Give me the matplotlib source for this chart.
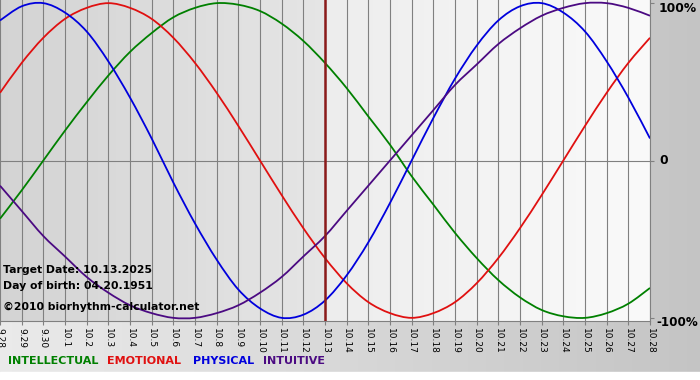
import numpy as np
import matplotlib.pyplot as plt
from matplotlib.path import Path
from matplotlib.patches import PathPatch

# day labels along the bottom (month.day)
tick_labels = ['9.28', '9.29', '9.30', '10.1', '10.2', '10.3', '10.4', '10.5', '10.6', '10.7',
               '10.8', '10.9', '10.10', '10.11', '10.12', '10.13', '10.14', '10.15', '10.16', '10.17',
               '10.18', '10.19', '10.20', '10.21', '10.22', '10.23', '10.24', '10.25', '10.26', '10.27',
               '10.28']

# cycle values per day (1 = 100%)
physical = [0.89, 0.98, 1.00, 0.94, 0.82, 0.63, 0.40, 0.14, -0.14, -0.40,
            -0.63, -0.82, -0.94, -1.00, -0.98, -0.89, -0.73, -0.52, -0.27, 0.00,
            0.27, 0.52, 0.73, 0.89, 0.98, 1.00, 0.94, 0.82, 0.63, 0.40, 0.14]
emotional = [0.43, 0.62, 0.78, 0.90, 0.97, 1.00, 0.97, 0.90, 0.78, 0.62,
             0.43, 0.22, 0.00, -0.22, -0.43, -0.62, -0.78, -0.90, -0.97, -1.00,
             -0.97, -0.90, -0.78, -0.62, -0.43, -0.22, 0.00, 0.22, 0.43, 0.62, 0.78]
intellectual = [-0.37, -0.19, 0.00, 0.19, 0.37, 0.54, 0.69, 0.81, 0.91, 0.97,
                1.00, 0.99, 0.95, 0.87, 0.76, 0.62, 0.46, 0.28, 0.10, -0.10,
                -0.28, -0.46, -0.62, -0.76, -0.87, -0.95, -0.99, -1.00, -0.97, -0.91, -0.81]
intuitive = [-0.16, -0.32, -0.48, -0.61, -0.74, -0.84, -0.92, -0.97, -1.00, -1.00,
             -0.97, -0.92, -0.84, -0.74, -0.61, -0.48, -0.32, -0.16, 0.00, 0.16,
             0.32, 0.48, 0.61, 0.74, 0.84, 0.92, 0.97, 1.00, 1.00, 0.97, 0.92]

target_index = 15  # 10.13
target_date = '10.13.2025'
birth_date = '04.20.1951'

days = np.arange(len(tick_labels))


def smooth_line(ax, x, y, color):
    # draw a smooth curve through the points (catmull-rom as bezier segments)
    pts = np.column_stack([x, y]).astype(float)
    padded = np.vstack([pts[0], pts, pts[-1]])
    verts = [pts[0]]
    codes = [Path.MOVETO]
    for i in range(len(pts) - 1):
        p0, p1, p2, p3 = padded[i], padded[i + 1], padded[i + 2], padded[i + 3]
        verts += [p1 + (p2 - p0) / 6, p2 - (p3 - p1) / 6, p2]
        codes += [Path.CURVE4] * 3
    ax.add_patch(PathPatch(Path(verts, codes), fill=False, edgecolor=color, lw=1.3, zorder=3))


fig = plt.figure(figsize=(7, 3.8), dpi=100)

# grey background of the whole picture, darker to the right
bg = fig.add_axes([0, 0, 1, 1])
grad = np.linspace(0.92, 0.77, 256)
bg.imshow(np.dstack([grad, grad, grad]), extent=(0, 1, 0, 1), aspect='auto')
bg.axhspan(0, 8 / 380, color='white')
bg.set_xlim(0, 1)
bg.set_ylim(0, 1)
bg.axis('off')

ax = fig.add_axes([0, 59 / 380, 650 / 700, 321 / 380])
ylim = (-1.02, 1.02)

# chart background: grey before the target date, light after it
left = np.linspace(0.83, 0.90, 128)
right = np.linspace(0.93, 0.98, 128)
ax.imshow(np.dstack([left, left, left]), extent=(days[0], target_index, ylim[0], ylim[1]),
          aspect='auto', zorder=0)
ax.imshow(np.dstack([right, right, right]), extent=(target_index, days[-1], ylim[0], ylim[1]),
          aspect='auto', zorder=0)

smooth_line(ax, days, intellectual, '#008000')
smooth_line(ax, days, emotional, '#e01010')
smooth_line(ax, days, physical, '#0000dd')
smooth_line(ax, days, intuitive, '#4b0a82')

ax.axvline(target_index, color='#8b1a1a', lw=1.8, zorder=4)
ax.axhline(0, color='#808080', lw=0.8, zorder=1)

ax.set_xlim(days[0], days[-1])
ax.set_ylim(ylim)
ax.set_xticks(days)
ax.set_xticklabels(tick_labels, rotation=270, fontsize=6.5)
ax.grid(axis='x', color='#808080', lw=0.8, zorder=1)
ax.set_axisbelow(True)
ax.tick_params(axis='x', length=3, color='#808080', pad=2)

# percent labels on the right side
ax.yaxis.tick_right()
ax.set_yticks([1, 0, -1])
ax.set_yticklabels([])
ax.tick_params(axis='y', length=3, color='#808080')
fig.text(659 / 700, 1 - 8 / 380, '100%', fontsize=8.8, fontweight='bold', va='center')
fig.text(659 / 700, 1 - 161 / 380, '0', fontsize=8.8, fontweight='bold', va='center')
fig.text(656 / 700, 1 - 322 / 380, '-100%', fontsize=8.6, fontweight='bold', va='center')

for side in ['top', 'left']:
    ax.spines[side].set_visible(False)
for side in ['bottom', 'right']:
    ax.spines[side].set_color('#808080')

# info text in the lower left corner
fig.text(3 / 700, 1 - 270 / 380, 'Target Date: ' + target_date, fontsize=7.8,
         fontweight='bold', va='center', zorder=5)
fig.text(3 / 700, 1 - 286 / 380, 'Day of birth: ' + birth_date, fontsize=7.8,
         fontweight='bold', va='center', zorder=5)
fig.text(3 / 700, 1 - 307 / 380, '\u00a92010 biorhythm-calculator.net', fontsize=7.8,
         fontweight='bold', va='center', zorder=5)

# legend words under the chart
legend = [('INTELLECTUAL', '#008000', 8), ('EMOTIONAL', '#e01010', 107),
          ('PHYSICAL', '#0000dd', 193), ('INTUITIVE', '#4b0a82', 263)]
for name, col, xpix in legend:
    fig.text(xpix / 700, 1 - 361 / 380, name, color=col, fontsize=8,
             fontweight='bold', va='center')

fig.savefig('out.png', dpi=100)
